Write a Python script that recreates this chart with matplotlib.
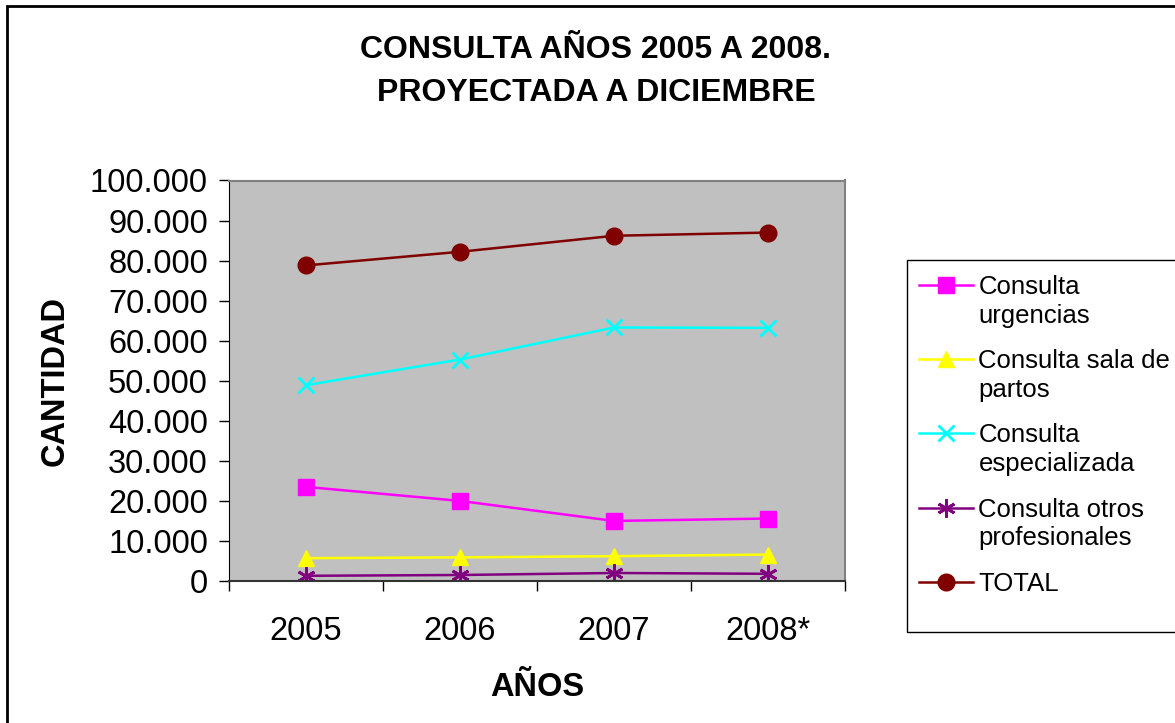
import matplotlib.pyplot as plt
from matplotlib.patches import Rectangle
from matplotlib.transforms import Affine2D
from matplotlib.ticker import FuncFormatter, FixedLocator

years = ["2005", "2006", "2007", "2008*"]
urgencias = [23500, 20000, 15000, 15600]
sala_partos = [5700, 5900, 6200, 6600]
especializada = [48900, 55300, 63300, 63200]
otros = [1300, 1500, 2000, 1800]
total = [78800, 82200, 86200, 87000]

plt.rcParams['font.family'] = ['Liberation Sans', 'DejaVu Sans']

W, H = 1175, 723
fig = plt.figure(figsize=(W / 100, H / 100), dpi=100)
ax = fig.add_axes([229 / W, 1 - 581 / H, (845 - 229) / W, (581 - 180.5) / H])
ax.set_facecolor('#C0C0C0')

x = list(range(len(years)))
ax.plot(x, urgencias, color='#FF00FF', marker='s', ms=11, lw=1.8, label='Consulta\nurgencias')
ax.plot(x, sala_partos, color='#FFFF00', marker='^', ms=12, lw=1.8, label='Consulta sala de\npartos')
ax.plot(x, especializada, color='#00FFFF', marker='x', ms=11, mew=2, lw=1.8, label='Consulta\nespecializada')
ax.plot(x, otros, color='#800080', marker=(6, 2, 0), ms=13, mew=2, lw=1.8, label='Consulta otros\nprofesionales')
ax.plot(x, total, color='#800000', marker='o', ms=12, lw=1.8, label='TOTAL')

ax.set_xlim(-0.5, len(years) - 0.5)
ax.set_ylim(0, 100000)
ax.set_yticks(range(0, 100001, 10000))
ax.yaxis.set_major_formatter(FuncFormatter(lambda v, p: f"{int(v):,}".replace(",", ".")))
ax.set_xticks(x)
ax.set_xticklabels(years)
ax.xaxis.set_minor_locator(FixedLocator([i - 0.5 for i in range(len(years) + 1)]))
ax.tick_params(axis='x', which='major', length=0, labelsize=23.5, pad=25)
ax.tick_params(axis='x', which='minor', length=7.2, width=1, direction='out')
ax.tick_params(axis='y', length=7.2, width=1, direction='out', labelsize=23.5, pad=8)

for side in ['top', 'right']:
    ax.spines[side].set_color('#808080')
    ax.spines[side].set_linewidth(1.5)
ax.spines['left'].set_color('black')
ax.spines['bottom'].set_color('#333333')
ax.spines['bottom'].set_linewidth(1.5)

ax.set_ylabel('CANTIDAD', fontsize=23.5, fontweight='bold', labelpad=14)
ax.set_xlabel('AÑOS', fontsize=23.5, fontweight='bold', labelpad=18)

fig.text(596 / W, 1 - 71.5 / H, 'CONSULTA AÑOS 2005 A 2008.\nPROYECTADA A DICIEMBRE',
         ha='center', va='center', fontsize=23, fontweight='bold', linespacing=1.55)

# legend (frame drawn separately, Excel-style box with empty space at bottom)
leg = fig.legend(loc='upper left', bbox_to_anchor=(909 / W, 1 - 265 / H),
                 fontsize=18.5, frameon=False,
                 borderpad=0.4, labelspacing=0.83, handlelength=2.1, handletextpad=0.2,
                 borderaxespad=0)
for t in leg.get_texts():
    t.set_linespacing(1.25)

# put each legend key level with the first line of its label, like Excel does
fig.canvas.draw()
r = fig.canvas.get_renderer()
texts = leg.get_texts()
handles = leg.legend_handles
ref_t = texts[-1].get_window_extent(r)
ref_h = handles[-1].get_window_extent(r)
off = ref_t.y1 - (ref_h.y0 + ref_h.y1) / 2
for t, h in zip(texts[:-1], handles[:-1]):
    tb = t.get_window_extent(r)
    hb = h.get_window_extent(r)
    dy = (tb.y1 - off) - (hb.y0 + hb.y1) / 2
    h.set_transform(h.get_transform() + Affine2D().translate(0, dy))

fig.patches.append(Rectangle((907 / W, 1 - 632 / H), 0.5, (632 - 260) / H,
                             transform=fig.transFigure, fill=False,
                             edgecolor='black', lw=1))

fig.patches.append(Rectangle((6.5 / W, -0.1), 1.2, 1 - 6.5 / H + 0.1,
                             transform=fig.transFigure, fill=False,
                             edgecolor='black', lw=2))

fig.savefig('out.png', dpi=100)
